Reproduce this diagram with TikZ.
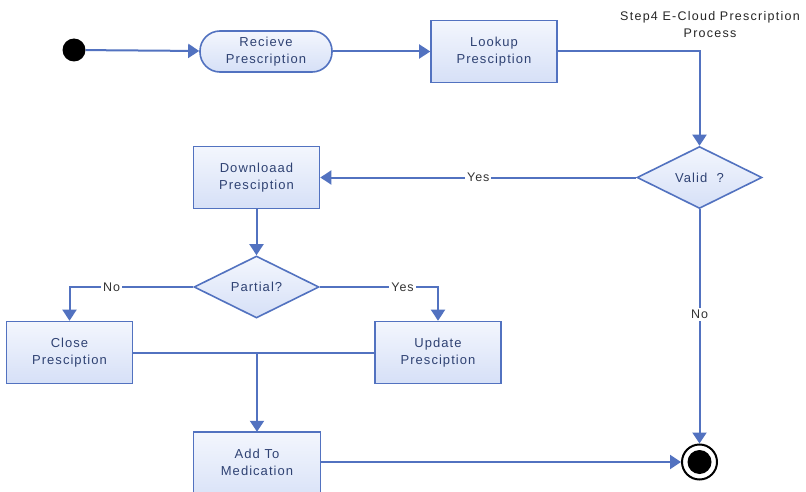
\documentclass[tikz,border=0pt]{standalone}
\usepackage{fontspec}
\setmainfont{Liberation Sans}[LetterSpace=8]
\usetikzlibrary{arrows.meta,shapes.geometric}
\definecolor{ln}{HTML}{5272C0}
\definecolor{ftop}{HTML}{F3F6FD}
\definecolor{fbot}{HTML}{D6E0F7}
\definecolor{tx}{HTML}{2F4273}
\begin{document}
\begin{tikzpicture}[x=1pt,y=-1pt,
  conn/.style={draw=ln,line width=2pt},
  arr/.style={conn,-{Triangle[length=11pt,width=14pt]}},
  txt/.style={text=tx,align=center,font=\fontsize{13}{17}\selectfont,inner sep=0pt},
  base/.style={txt,draw=ln,line width=1.6pt,top color=ftop,bottom color=fbot},
  box/.style={base,rectangle,minimum width=126pt,minimum height=62pt},
  pill/.style={base,rectangle,rounded corners=20pt,minimum width=132pt,minimum height=41pt},
  dec/.style={base,diamond,minimum width=125pt,minimum height=62pt},
  lab/.style={fill=white,text=black!80,font=\fontsize{12.5}{14}\selectfont,inner sep=2pt},
]
\useasboundingbox (0,0) rectangle (806,492);
\fill[white] (0,0) rectangle (806,492);

\node[align=center,font=\addfontfeatures{LetterSpace=10}\fontsize{12.5}{17}\selectfont,text=black!85,inner sep=0pt] (title) at (710,25) {Step4 E-Cloud Prescription\\Process};

\node[circle,fill=black,minimum size=23pt,inner sep=0pt] (start) at (74,50) {};
\node[pill] (rec) at (266,51.5) {Recieve\\Prescription};
\node[box] (look) at (494,51.5) {Lookup\\Presciption};
\node[dec] (valid) at (699.5,177.5) {Valid \ ?};
\node[box] (dl) at (256.5,177.5) {Downloaad\\Presciption};
\node[dec] (partial) at (256.5,287) {Partial?};
\node[box] (close) at (69.5,352.5) {Close\\Presciption};
\node[box] (update) at (438,352.5) {Update\\Presciption};
\path[base] (193.5,432) rectangle (320.5,505);
\node[txt,minimum width=127pt,minimum height=60pt] (add) at (257,462) {Add To\\Medication};
\node[circle,draw=black,line width=2pt,fill=white,minimum size=35pt,inner sep=0pt] (end) at (699.5,462) {};
\node[circle,fill=black,minimum size=24pt,inner sep=0pt] (endin) at (end.center) {};

\draw[arr] (start) -- (rec);
\draw[arr] (rec) -- (look);
\draw[arr] (look.east) -| (valid.north);
\draw[arr] (valid.west) -- node[lab]{Yes} (dl.east);
\draw[arr] (dl) -- (partial);
\draw[arr] (partial.east) -| node[lab,pos=0.35]{Yes} (update.north);
\draw[arr] (partial.west) -| node[lab,pos=0.33]{No} (close.north);
\draw[conn] (close.east) -- (update.west);
\coordinate (j) at (add.north |- close.east);
\draw[arr] (j) -- (add.north);
\draw[arr] (valid.south) -- node[lab,pos=0.45]{No} (end.north);
\draw[arr] (add.east) -- (end.west);
\end{tikzpicture}
\end{document}
